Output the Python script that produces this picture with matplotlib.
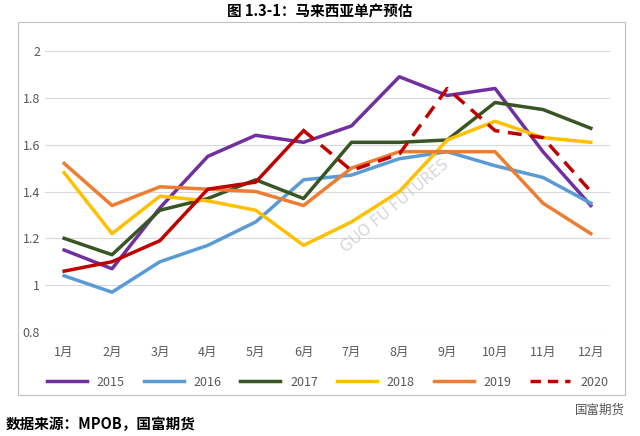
import matplotlib
matplotlib.use("Agg")
import matplotlib.pyplot as plt
from matplotlib.patches import Rectangle

plt.rcParams["font.family"] = ["Noto Sans CJK SC"]

months = ["1月","2月","3月","4月","5月","6月","7月","8月","9月","10月","11月","12月"]
y2015 = [1.15,1.07,1.33,1.55,1.64,1.61,1.68,1.89,1.81,1.84,1.57,1.34]
y2016 = [1.04,0.97,1.10,1.17,1.27,1.45,1.47,1.54,1.57,1.51,1.46,1.35]
y2017 = [1.20,1.13,1.32,1.37,1.45,1.37,1.61,1.61,1.62,1.78,1.75,1.67]
y2018 = [1.48,1.22,1.38,1.36,1.32,1.17,1.27,1.40,1.62,1.70,1.63,1.61]
y2019 = [1.52,1.34,1.42,1.41,1.40,1.34,1.50,1.57,1.57,1.57,1.35,1.22]
y2020 = [1.06,1.10,1.19,1.41,1.44,1.66,1.49,1.56,1.84,1.66,1.63,1.40]
yticks = [0.8,1,1.2,1.4,1.6,1.8,2]
ylabels = ["0.8","1","1.2","1.4","1.6","1.8","2"]

fig = plt.figure(figsize=(6.4,4.36), dpi=100)
fig.patches.append(Rectangle((18/640, 1-395/436), 607/640, 373/436, transform=fig.transFigure,
                             fill=False, edgecolor="#bfbfbf", lw=0.8))
ax = fig.add_axes([45/640, 1-332/436, 565/640, 281/436])
x = list(range(12))
ax.plot(x, y2015, color="#7030A0", lw=2.5, label="2015")
ax.plot(x, y2016, color="#5B9BD5", lw=2.5, label="2016")
ax.plot(x, y2017, color="#375623", lw=2.5, label="2017")
ax.plot(x, y2018, color="#FFC000", lw=2.5, label="2018")
ax.plot(x, y2019, color="#ED7D31", lw=2.5, label="2019")
ax.plot(x[:6], y2020[:6], color="#C00000", lw=2.5)
ax.plot(x[5:], y2020[5:], color="#C00000", lw=2.5, ls=(0,(4,2.5)))
ax.plot([], [], color="#C00000", lw=2.5, ls=(0,(3,2)), label="2020")
ax.set_xlim(-0.4, 11.4)
ax.set_ylim(0.8, 2)
ax.set_yticks(yticks)
ax.set_yticklabels(ylabels)
ax.set_xticks(x)
ax.set_xticklabels(months)
ax.grid(axis="y", color="#d9d9d9", lw=0.8)
ax.set_axisbelow(True)
for s in ax.spines.values():
    s.set_visible(False)
ax.tick_params(length=0, labelsize=9, colors="#595959")
ax.tick_params(axis="x", pad=10)
ax.text(0.62, 0.45, "GUO FU FUTURES", transform=ax.transAxes, rotation=40, fontsize=11,
        color="#bbbbbb", alpha=0.6, ha="center", va="center", fontfamily="DejaVu Sans")
leg = ax.legend(loc="upper center", bbox_to_anchor=(0.5, -0.115), ncol=6, frameon=False,
                fontsize=9, handlelength=3.2, columnspacing=1.5)
for t in leg.get_texts():
    t.set_color("#595959")
fig.text(0.5, 1-12/436, "图 1.3-1：马来西亚单产预估", ha="center", va="center", fontsize=10.5, fontweight="bold")
fig.text(6/640, 1-424/436, "数据来源：MPOB，国富期货", ha="left", va="center", fontsize=10.5, fontweight="bold")
fig.text(625/640, 1-410/436, "国富期货", ha="right", va="center", fontsize=9, color="#555555")
fig.savefig("out.png", dpi=100)
